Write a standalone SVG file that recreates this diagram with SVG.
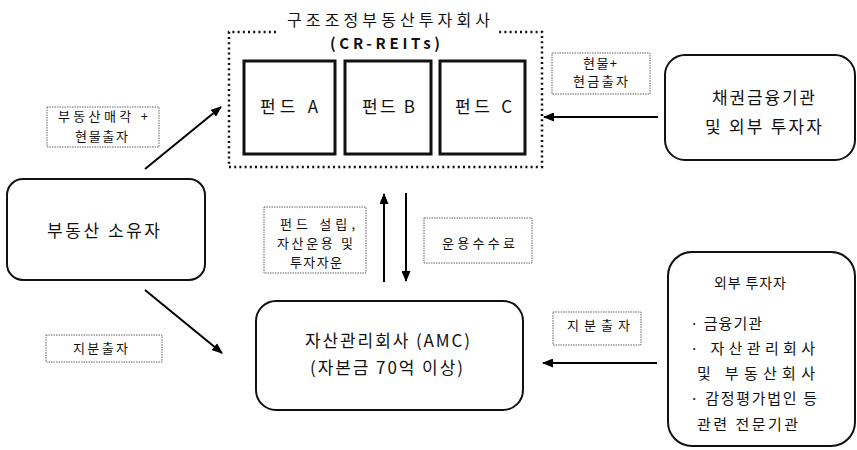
<svg xmlns="http://www.w3.org/2000/svg" width="857" height="450" viewBox="0 0 857 450">
<defs>
<marker id="ah" viewBox="0 0 11 9" refX="10" refY="4.5" markerWidth="11" markerHeight="9" markerUnits="userSpaceOnUse" orient="auto">
<path d="M0,0 L11,4.5 L0,9 z" fill="#000"/>
</marker>
<style>
text{font-family:"Noto Sans CJK KR","Noto Sans",sans-serif;fill:#111;}
.m{font-size:17px;}
.s{font-size:13px;}
.b{font-size:15px;}
.t{font-size:16px;}
.r{font-size:15px;font-weight:bold;}
.node{fill:#fff;stroke:#111;stroke-width:2;}
.fund{fill:#fff;stroke:#111;stroke-width:3;}
.lbl{fill:#fff;stroke:#666;stroke-width:1;stroke-dasharray:1.5 1;}
.dot{fill:none;stroke:#111;stroke-width:2.5;stroke-dasharray:2 3.2;}
.arr{stroke:#000;stroke-width:2;fill:none;marker-end:url(#ah);}
</style>
</defs>

<g id="reits">
<path class="dot" d="M276,32 L229,32 L229,167 L542,167 L542,32 L498,32"/>
<text class="t" x="287" y="26" textLength="203" lengthAdjust="spacing">구조조정부동산투자회사</text>
<text class="r" x="330" y="49" textLength="110" lengthAdjust="spacing">(CR-REITs)</text>
</g>
<g id="fundA">
<rect class="fund" x="244" y="61" width="91" height="93"/>
<text class="m" x="260" y="113" textLength="58" lengthAdjust="spacing">펀드 A</text>
</g>
<g id="fundB">
<rect class="fund" x="345" y="61" width="86" height="93"/>
<text class="m" x="362" y="113" textLength="53" lengthAdjust="spacing">펀드 B</text>
</g>
<g id="fundC">
<rect class="fund" x="440" y="61" width="85" height="93"/>
<text class="m" x="455" y="113" textLength="57" lengthAdjust="spacing">펀드 C</text>
</g>

<g id="owner">
<rect class="node" x="7" y="179" width="198" height="101" rx="16"/>
<text class="m" x="47" y="237" textLength="113" lengthAdjust="spacing">부동산 소유자</text>
</g>

<g id="creditors">
<rect class="node" x="665" y="55" width="190" height="105" rx="20"/>
<text class="m" x="712" y="104" textLength="103" lengthAdjust="spacing">채권금융기관</text>
<text class="m" x="705" y="133" textLength="117" lengthAdjust="spacing">및 외부 투자자</text>
</g>

<g id="amc">
<rect class="node" x="256" y="301" width="267" height="109" rx="20"/>
<text class="m" x="305" y="347" textLength="165" lengthAdjust="spacing">자산관리회사 (AMC)</text>
<text class="m" x="310" y="374" textLength="153" lengthAdjust="spacing">(자본금 70억 이상)</text>
</g>

<g id="investors">
<rect class="node" x="668" y="252" width="187" height="194" rx="24"/>
<text x="714" y="288" textLength="72" lengthAdjust="spacing" font-size="14">외부 투자자</text>
<text class="b" x="690" y="329" textLength="72" lengthAdjust="spacing">· 금융기관</text>
<text class="b" x="690" y="354" textLength="125" lengthAdjust="spacing">· 자산관리회사</text>
<text class="b" x="697" y="379" textLength="118" lengthAdjust="spacing">및 부동산회사</text>
<text class="b" x="690" y="404" textLength="127" lengthAdjust="spacing">· 감정평가법인 등</text>
<text class="b" x="697" y="430" textLength="101" lengthAdjust="spacing">관련 전문기관</text>
</g>

<g id="connectors">
<line class="arr" x1="145" y1="169" x2="221" y2="107"/>
<line class="arr" x1="145" y1="290" x2="222" y2="353"/>
<line class="arr" x1="658" y1="117" x2="544" y2="117"/>
<line class="arr" x1="384" y1="282" x2="384" y2="194"/>
<line class="arr" x1="406" y1="193" x2="406" y2="281"/>
<line class="arr" x1="657" y1="363" x2="543" y2="363"/>
</g>

<g id="labels">
<g id="lbl1">
<rect class="lbl" x="47" y="107" width="112" height="40"/>
<text class="s" x="58" y="121" textLength="90" lengthAdjust="spacing">부동산매각 +</text>
<text class="s" x="75" y="141" textLength="53" lengthAdjust="spacing">현물출자</text>
</g>
<g id="lbl2">
<rect class="lbl" x="46" y="335" width="116" height="27"/>
<text class="s" x="73" y="353" textLength="55" lengthAdjust="spacing">지분출자</text>
</g>
<g id="lbl3">
<rect class="lbl" x="552" y="53" width="98" height="41"/>
<text class="s" x="583" y="68" textLength="34" lengthAdjust="spacing" font-size="12">현물+</text>
<text class="s" x="573" y="86" textLength="55" lengthAdjust="spacing" font-size="12">현금출자</text>
</g>
<g id="lbl4">
<rect class="lbl" x="264" y="207" width="102" height="66"/>
<text class="s" x="280" y="229" textLength="75" lengthAdjust="spacing">펀드 설립,</text>
<text class="s" x="277" y="248" textLength="76" lengthAdjust="spacing">자산운용 및</text>
<text class="s" x="290" y="267" textLength="52" lengthAdjust="spacing">투자자운</text>
</g>
<g id="lbl5">
<rect class="lbl" x="424" y="218" width="108" height="45"/>
<text class="s" x="442" y="248" textLength="73" lengthAdjust="spacing">운용수수료</text>
</g>
<g id="lbl6">
<rect class="lbl" x="553" y="312" width="88" height="33"/>
<text class="s" x="567" y="330" textLength="63" lengthAdjust="spacing">지분출자</text>
</g>
</g>
</svg>
